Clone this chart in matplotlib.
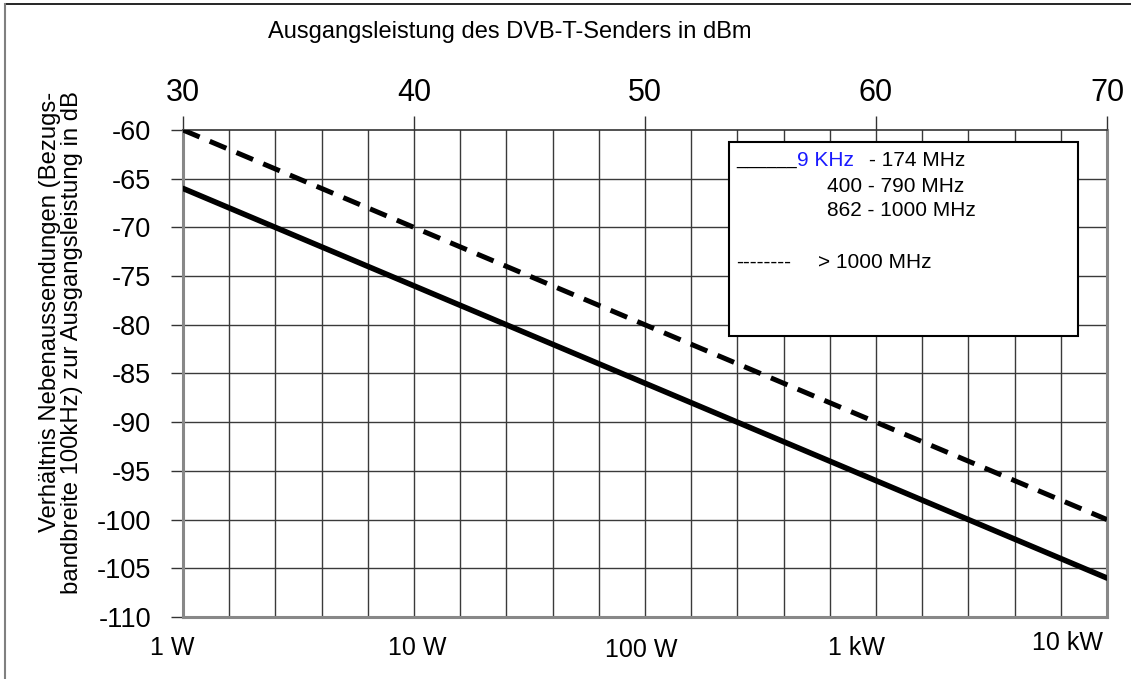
import matplotlib
matplotlib.use("Agg")
import matplotlib.pyplot as plt
from matplotlib.patches import Rectangle
import matplotlib.transforms as mtransforms

plt.rcParams['font.family'] = ['Liberation Sans', 'DejaVu Sans']

# Data
power_dbm = [30, 70]
limit_low_freq = [-66, -106]      # 9 kHz-174 MHz, 400-790 MHz, 862-1000 MHz
limit_high_freq = [-60, -100]     # > 1000 MHz
top_ticks = [30, 40, 50, 60, 70]
top_labels = ["30", "40", "50", "60", "70"]
bottom_labels = ["1 W", "10 W", "100 W", "1 kW", "10 kW"]
y_ticks = [-60, -65, -70, -75, -80, -85, -90, -95, -100, -105, -110]

W, H = 1131, 679
fig = plt.figure(figsize=(W/100, H/100), dpi=100)
fig.patch.set_facecolor('white')
# outer frame (top and left edges visible)
fig.add_artist(plt.Line2D([5/W, 1.0], [1 - 4/H, 1 - 4/H], transform=fig.transFigure, color='black', lw=1.2))
fig.add_artist(plt.Line2D([5/W, 5/W], [0, 1 - 4/H], transform=fig.transFigure, color='#808080', lw=1.5))

ax = fig.add_axes([183/W, 1 - 617/H, (1107 - 183)/W, (617 - 130)/H])
ax.set_xlim(30, 70)
ax.set_ylim(-110, -60)

# grid
for x in range(32, 70, 2):
    ax.axvline(x, color='#3a3a3a', lw=1.0, zorder=1)
for y in y_ticks[1:-1]:
    ax.axhline(y, color='#3a3a3a', lw=1.0, zorder=1)

ax.plot(power_dbm, limit_low_freq, color='black', lw=4.0, solid_capstyle='round', zorder=3)
ax.plot(power_dbm, limit_high_freq, color='black', lw=3.6, dashes=(3.6, 2.2), zorder=3)

# spines
ax.spines['top'].set_color('#333333')
ax.spines['top'].set_linewidth(1.2)
for s in ['left', 'bottom', 'right']:
    ax.spines[s].set_color('#888888')
    ax.spines[s].set_linewidth(2.2)

# y axis
ax.set_yticks(y_ticks)
ax.set_yticklabels([str(v) for v in y_ticks], fontsize=19.5)
ax.tick_params(axis='y', direction='out', length=9, width=1, color='#333333', pad=14)

# top axis (dBm)
ax.xaxis.set_ticks_position('top')
ax.set_xticks(top_ticks)
ax.set_xticklabels(top_labels, fontsize=22)
ax.tick_params(axis='x', direction='out', length=10, width=1, color='#333333', pad=6)

# bottom labels (power), offsets in pixels
label_offsets = [(-11, -31), (3, -31), (-4, -33), (-20, -31), (-40, -26)]
for x, lab, (dx, dy) in zip(top_ticks, bottom_labels, label_offsets):
    tr = ax.get_xaxis_transform() + mtransforms.ScaledTranslation(dx/100, dy/100, fig.dpi_scale_trans)
    ax.text(x, 0, lab, transform=tr, ha='center', va='center', fontsize=18)

fig.text(510/W, 1 - 32/H, "Ausgangsleistung des DVB-T-Senders in dBm", ha='center', va='center', fontsize=17)

fig.text(61/W, 1 - 343/H, "Verhältnis Nebenaussendungen (Bezugs-\nbandbreite 100kHz) zur Ausgangsleistung in dB",
         rotation=90, ha='center', va='center', multialignment='right', fontsize=17.2, linespacing=1.0)

# legend box
lx0, ly0, lx1, ly1 = 729, 142, 1078, 336
box = Rectangle((lx0/W, 1 - ly1/H), (lx1 - lx0)/W, (ly1 - ly0)/H, transform=fig.transFigure,
                facecolor='white', edgecolor='black', lw=1.5, zorder=5)
fig.add_artist(box)
fs = 15
fig.text(736/W, 1 - 160/H, "______", ha='left', va='center', fontsize=fs - 2, color='black', zorder=6)
fig.text(797/W, 1 - 160/H, "9 KHz", ha='left', va='center', fontsize=fs, color='#1a1aff', zorder=6)
fig.text(869/W, 1 - 160/H, "- 174 MHz", ha='left', va='center', fontsize=fs, color='black', zorder=6)
fig.text(827/W, 1 - 186/H, "400 - 790 MHz", ha='left', va='center', fontsize=fs, color='black', zorder=6)
fig.text(827/W, 1 - 211/H, "862 - 1000 MHz", ha='left', va='center', fontsize=fs, color='black', zorder=6)
fig.text(736/W, 1 - 262/H, "--------", ha='left', va='center', fontsize=fs, color='black', zorder=6)
fig.text(818/W, 1 - 262/H, "> 1000 MHz", ha='left', va='center', fontsize=fs, color='black', zorder=6)

fig.savefig("out.png", dpi=100, facecolor='white')
